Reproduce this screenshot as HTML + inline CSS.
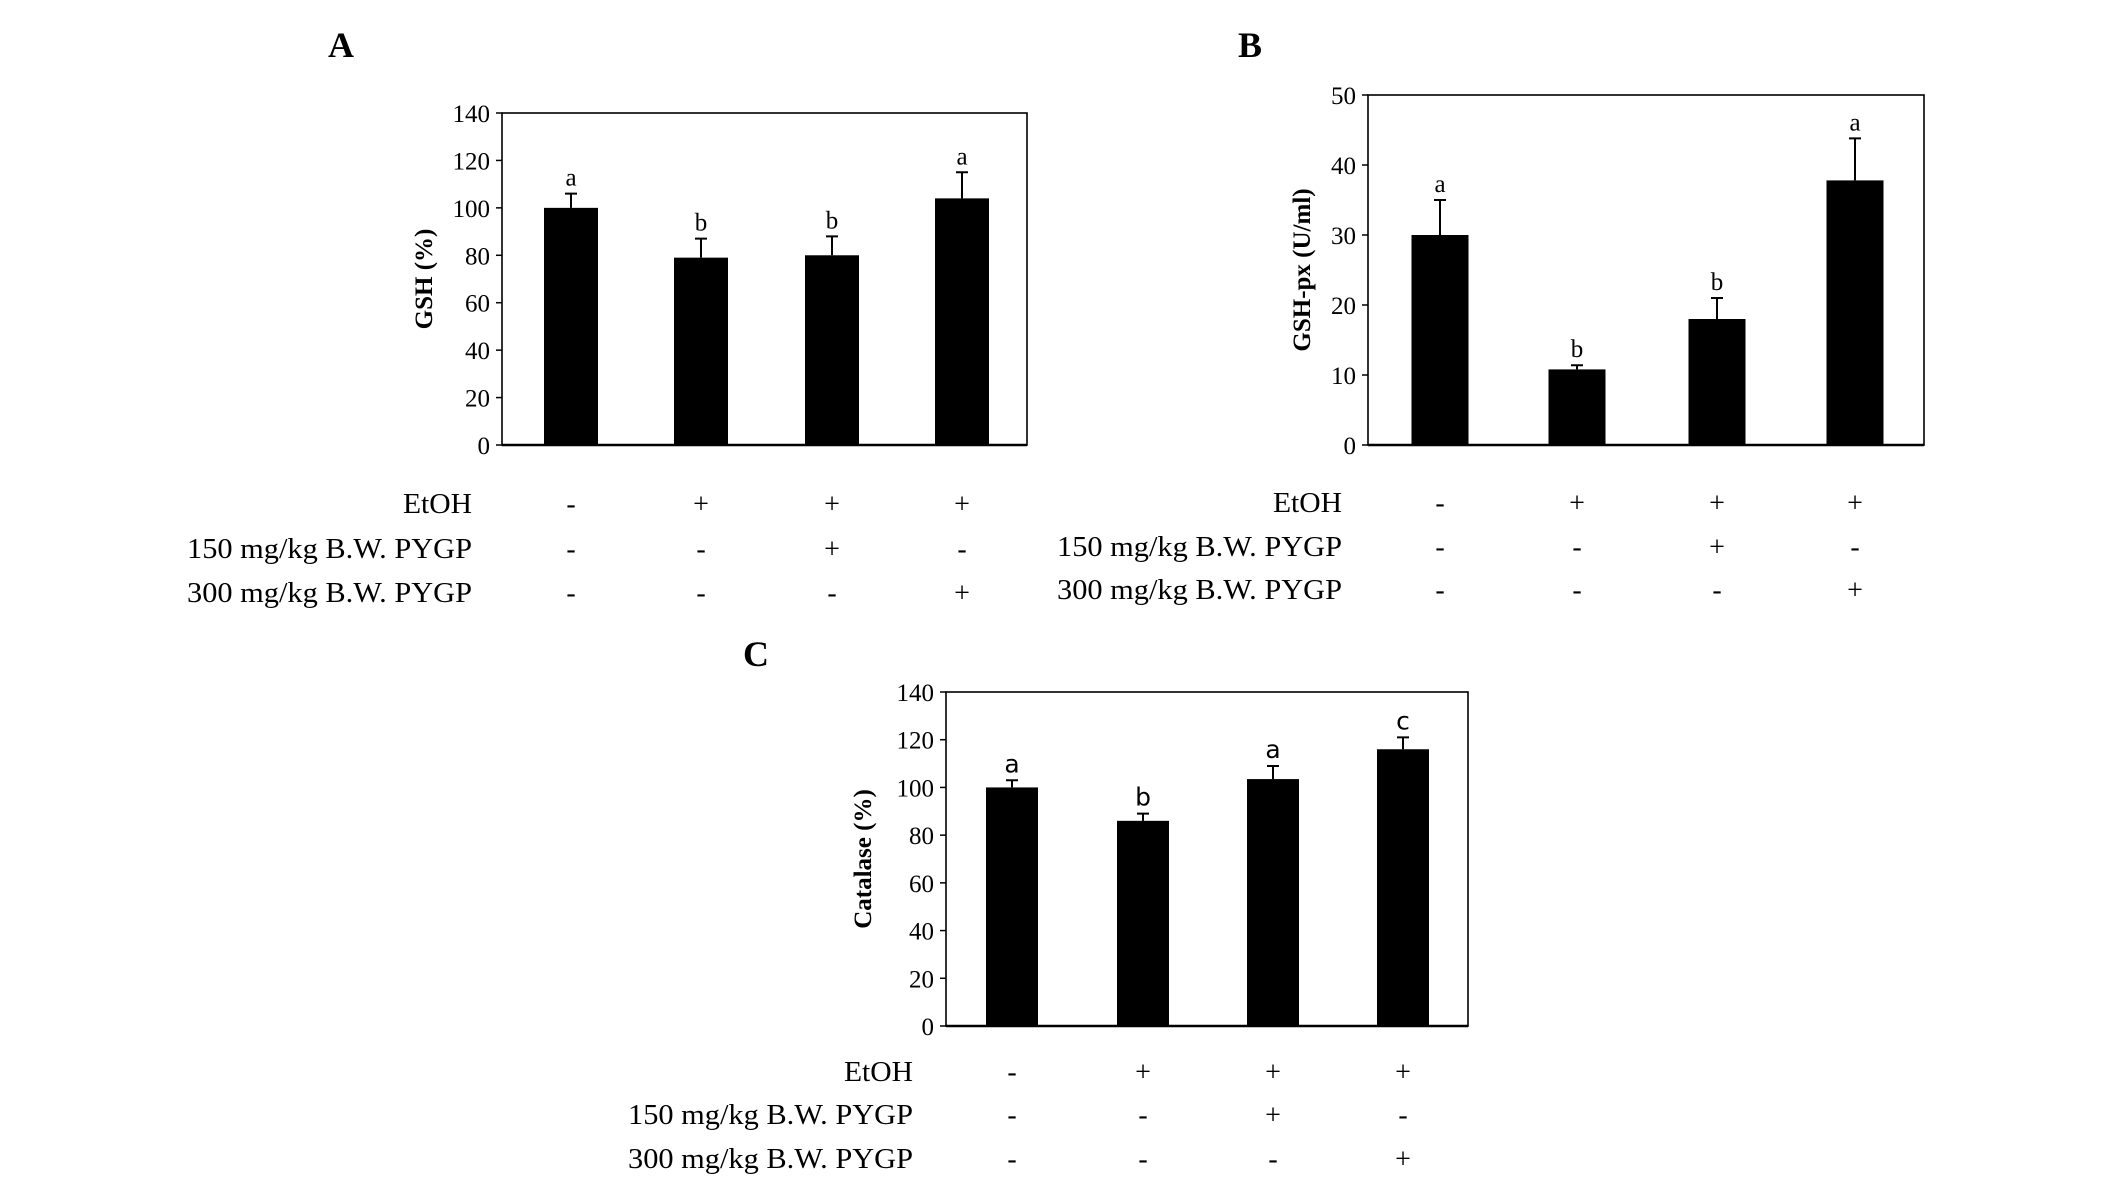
<!DOCTYPE html>
<html><head><meta charset="utf-8"><style>
html,body{margin:0;padding:0;background:#fff;}
svg{display:block;font-family:"Liberation Serif",serif;}
</style></head><body>
<svg id="fig" width="2126" height="1184" viewBox="0 0 2126 1184" xmlns="http://www.w3.org/2000/svg"></svg>
<script>
const groupsA = ["Control","EtOH","EtOH+150","EtOH+300"];
const gshValues = [100, 79, 80, 104];
const gshErrors = [6, 8, 8, 11];
const gshLetters = ["a","b","b","a"];
const gshTicks = [0,20,40,60,80,100,120,140];

const gpxValues = [30, 10.8, 18, 37.8];
const gpxErrors = [5, 0.6, 3, 6];
const gpxLetters = ["a","b","b","a"];
const gpxTicks = [0,10,20,30,40,50];

const catValues = [100, 86, 103.5, 116];
const catErrors = [3, 3, 5.5, 5];
const catLetters = ["a","b","a","c"];
const catTicks = [0,20,40,60,80,100,120,140];

const rowLabels = ["EtOH","150 mg/kg B.W. PYGP","300 mg/kg B.W. PYGP"];
const rowSigns = [["-","+","+","+"],["-","-","+","-"],["-","-","-","+"]];

const NS="http://www.w3.org/2000/svg";
const svg=document.getElementById('fig');
function mk(tag,attrs,parent){const e=document.createElementNS(NS,tag);for(const k in attrs)e.setAttribute(k,attrs[k]);(parent||svg).appendChild(e);return e;}

function panel(cfg){
  const g=mk('g',{});
  
  
  const {x0,x1,y0,y1,max}=cfg;
  const yS=v=>y1-(v/max)*(y1-y0);
  const xS=i=>cfg.centers[i];
  const pl=mk('text',{x:cfg.lx,y:cfg.ly,'font-size':36,'font-weight':'bold','text-anchor':'middle'},g);
  pl.textContent=cfg.id;
  
  
  const fr=mk('rect',{x:x0,y:y0,width:x1-x0,height:y1-y0,fill:'none',stroke:'#000','stroke-width':1.6},g);
  
  
  mk('line',{x1:x0,y1:y1,x2:x1,y2:y1,stroke:'#000','stroke-width':2.4},g);
  cfg.ticks.forEach(t=>{
    mk('line',{x1:x0-6,y1:yS(t),x2:x0,y2:yS(t),stroke:'#000','stroke-width':1.5},g);
    const tl=mk('text',{x:x0-12,y:yS(t)+9,'font-size':25,'text-anchor':'end'},g);
    tl.textContent=t;
    
    
  });
  const yt=mk('text',{x:0,y:0,'font-size':25,'font-weight':'bold','text-anchor':'middle',transform:`translate(${cfg.tx},${(y0+y1)/2}) rotate(-90)`},g);
  yt.textContent=cfg.title;
  
  
  cfg.values.forEach((v,i)=>{
    const cx=xS(i),w=cfg.bw;
    const b=mk('rect',{x:cx-w/2,y:yS(v),width:w,height:y1-yS(v),fill:'#000'},g);
    
    
    const et=yS(v+cfg.errors[i]);
    const e=mk('path',{d:`M${cx},${yS(v)}V${et}M${cx-6},${et}H${cx+6}`,stroke:'#000','stroke-width':2,fill:'none'},g);
    
    
    const lt=mk('text',{x:cx,y:et-8,'font-size':25,'text-anchor':'middle','font-family':cfg.letterFont||'"Liberation Serif",serif'},g);
    lt.textContent=cfg.letters[i];
    
    
  });
  rowLabels.forEach((r,j)=>{
    const ry=cfg.rows[j];
    const rl=mk('text',{x:cfg.rx,y:ry+10,'font-size':29,'text-anchor':'end',textLength:j===0?69:285,lengthAdjust:'spacingAndGlyphs'},g);
    rl.textContent=r;
    
    
    rowSigns[j].forEach((s,i)=>{
      const st=mk('text',{x:xS(i),y:ry+10,'font-size':28,'text-anchor':'middle'},g);
      st.textContent=s;
      
      
    });
  });
}
panel({id:'A',lx:341,ly:57,x0:502,x1:1027,y0:113,y1:445,max:140,ticks:gshTicks,values:gshValues,errors:gshErrors,letters:gshLetters,
  centers:[571,701,832,962],bw:54,tx:432,title:'GSH (%)',rx:472,rows:[503,548,592]});
panel({id:'B',lx:1250,ly:57,x0:1368,x1:1924,y0:95,y1:445,max:50,ticks:gpxTicks,values:gpxValues,errors:gpxErrors,letters:gpxLetters,
  centers:[1440,1577,1717,1855],bw:57,tx:1310,title:'GSH-px (U/ml)',rx:1342,rows:[502,546,589]});
panel({id:'C',lx:756,ly:666,x0:946,x1:1468,y0:692,y1:1026,max:140,ticks:catTicks,values:catValues,errors:catErrors,letters:catLetters,
  centers:[1012,1143,1273,1403],bw:52,tx:871,title:'Catalase (%)',rx:913,rows:[1071,1114,1158],letterFont:'"DejaVu Sans",sans-serif'});
</script>
</body></html>
